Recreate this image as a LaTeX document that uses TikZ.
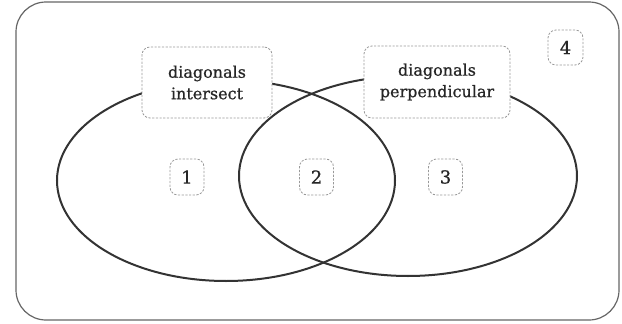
\documentclass[tikz,border=0pt]{standalone}
\usepackage{fontspec}
\setmainfont{DejaVu Serif}
\newfontfamily\lblfont{DejaVu Serif}[BoldFont={DejaVu Serif},BoldFeatures={FakeBold=0.7}]
\begin{document}
\begin{tikzpicture}[x=1pt,y=-1pt,
  lbl/.style={draw=black!40,dashed,dash pattern=on 2.2pt off 1.5pt,line width=0.8pt,rounded corners=8pt,fill=white,text=black!85,font=\lblfont\bfseries\fontsize{16}{21.5}\selectfont,align=center,inner sep=0pt},
  numbox/.style={lbl,font=\lblfont\bfseries\fontsize{18}{20}\selectfont,minimum width=34pt,minimum height=36pt},
  setline/.style={draw=black!80,line width=2pt}]
\useasboundingbox (0,0) rectangle (622,324);
\node[draw=black!60,line width=1.2pt,rounded corners=30pt,minimum width=603pt,minimum height=318pt] (univ) at (317.5,161) {};
\draw[setline] (226,180.5) ellipse [x radius=169, y radius=100.5];
\draw[setline] (408,176) ellipse [x radius=169, y radius=100];
\node[lbl,minimum width=130pt,minimum height=71pt] (A) at (207,82.5) {diagonals\\intersect};
\node[lbl,minimum width=146pt,minimum height=72pt] (B) at (437,82) {diagonals\\perpendicular};
\node[numbox] (n1) at (187,177) {1};
\node[numbox] (n2) at (316.5,177) {2};
\node[numbox] (n3) at (445.5,177) {3};
\node[numbox,minimum width=35pt,minimum height=35pt] (n4) at (565.5,47.5) {4};
\end{tikzpicture}
\end{document}
